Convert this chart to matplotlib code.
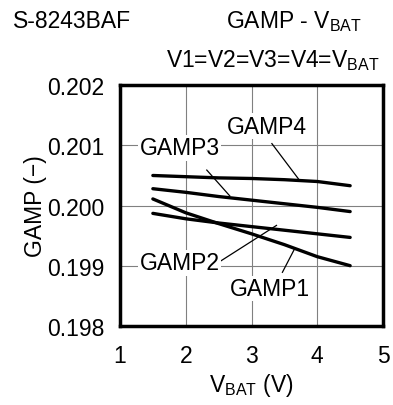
import matplotlib
matplotlib.use("Agg")
import matplotlib.pyplot as plt

plt.rcParams['font.family'] = ['Liberation Sans', 'DejaVu Sans']
plt.rcParams['mathtext.default'] = 'regular'

# data
vbat = [1.5, 2.0, 2.5, 3.0, 3.5, 4.0, 4.5]
gamp1 = [0.20011, 0.19988, 0.19970, 0.19953, 0.19935, 0.19915, 0.19900]
gamp2 = [0.19987, 0.19978, 0.19971, 0.19965, 0.19959, 0.19953, 0.19947]
gamp3 = [0.20028, 0.20022, 0.20015, 0.20009, 0.20003, 0.19997, 0.19990]
gamp4 = [0.20050, 0.20048, 0.20046, 0.20045, 0.20043, 0.20040, 0.20033]

xticks = [1, 2, 3, 4, 5]
yticks = [0.198, 0.199, 0.200, 0.201, 0.202]

# label text position, leader start, leader end (data units)
labels = {
    "GAMP1": ((3.28, 0.19862), (3.47, 0.19889), (3.65, 0.19927)),
    "GAMP2": ((1.91, 0.19905), (2.52, 0.19907), (3.38, 0.19967)),
    "GAMP3": ((1.91, 0.20096), (2.32, 0.20059), (2.67, 0.20016)),
    "GAMP4": ((3.23, 0.20132), (3.31, 0.20103), (3.73, 0.20042)),
}

fs = 16.5

fig = plt.figure(figsize=(3.93, 4.06), dpi=100)
ax = fig.add_axes([0.3053, 0.195, 0.6693, 0.5925])

ax.set_xlim(1, 5)
ax.set_ylim(0.198, 0.202)
ax.set_xticks(xticks)
ax.set_yticks(yticks)
ax.set_xticklabels([str(x) for x in xticks])
ax.set_yticklabels([f"{y:.3f}" for y in yticks])
ax.tick_params(length=0, labelsize=fs)
ax.tick_params(axis='y', pad=11)
ax.tick_params(axis='x', pad=13)
ax.grid(True, color='#808080', linewidth=0.8)
ax.set_axisbelow(True)
for s in ax.spines.values():
    s.set_linewidth(2.5)

for ys in (gamp1, gamp2, gamp3, gamp4):
    ax.plot(vbat, ys, color='black', linewidth=2.4, solid_capstyle='round', zorder=3)

for name, (txt, p0, p1) in labels.items():
    ax.plot([p0[0], p1[0]], [p0[1], p1[1]], color='black', linewidth=0.9, zorder=2)
    ax.text(txt[0], txt[1], name, fontsize=fs, ha='center', va='center', zorder=2.5,
            bbox=dict(facecolor='white', edgecolor='none', pad=1))

ax.set_xlabel('V$_{BAT}$ (V)', fontsize=fs, labelpad=3)
ax.set_ylabel('GAMP (−)', fontsize=fs, labelpad=0)

fig.text(0.033, 0.946, 'S-8243BAF', fontsize=fs, ha='left', va='center')
fig.text(0.922, 0.946, 'GAMP - V$_{BAT}$', fontsize=fs, ha='right', va='center')
fig.text(0.967, 0.852, 'V1=V2=V3=V4=V$_{BAT}$', fontsize=fs, ha='right', va='center')

fig.savefig('out.png', dpi=100)
